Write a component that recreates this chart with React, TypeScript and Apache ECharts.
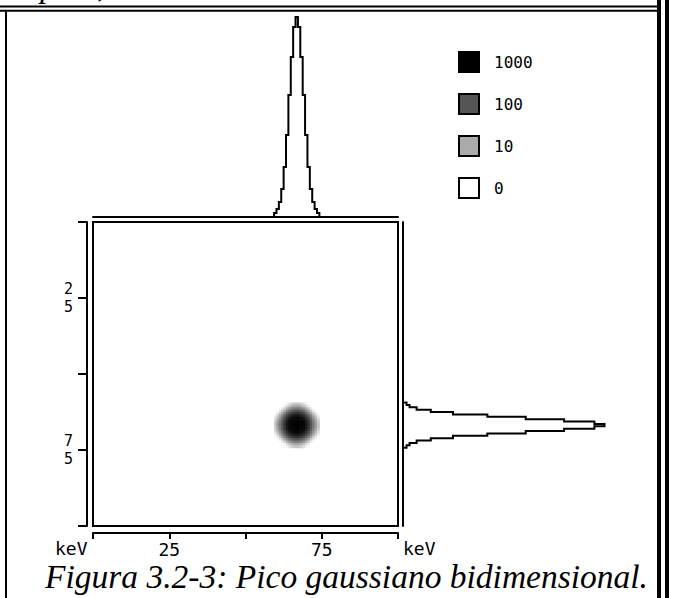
import React, { useEffect, useRef } from 'react';
import * as echarts from 'echarts';

// Spectrometer layout: 128 channels spanning 0–100 keV on each axis
const CHANNELS = 128;
const FULL_SCALE_KEV = 100;
const channelWidth = FULL_SCALE_KEV / CHANNELS;

// Projected counts around the peak, starting at this channel
const firstChannel = 76;
const xProjection = [4, 8, 15, 28, 50, 82, 122, 160, 190, 200, 190, 160, 122, 82, 50, 28, 15, 8, 4];
const yProjection = [4, 7, 14, 28, 50, 84, 122, 160, 190, 200, 190, 160, 122, 84, 50, 28, 14, 7, 4];

// Counts in the brightest cell of the 2-D spectrum
const spotPeakCounts = 1000;

// Colour key
const legendLevels = ['1000', '100', '10', '0'];
const legendColors = ['#000000', '#555555', '#aaaaaa', '#ffffff'];

// Axis ticks (keV)
const tickStep = 25;
const labeledTicks = [25, 75];
const axisUnit = 'keV';

const captionText = 'Figura 3.2-3: Pico gaussiano bidimensional.';
const headText = 'típico,';

// Grey ramp for log10(counts) from 0 to 3
const spotGrays = [
  '#ffffff', '#ffffff', '#ffffff', '#f4f4f4', '#d4d4d4', '#aaaaaa',
  '#808080', '#575757', '#303030', '#0a0a0a', '#000000',
];

const monoFont = '"DejaVu Sans Mono", monospace';
const serifFont = '"Liberation Serif", "Times New Roman", serif';

// Staircase outline of a projection: [keV, counts] pairs along bin edges
function stepOutline(counts: number[], first: number): number[][] {
  const pts: number[][] = [];
  counts.forEach((n, i) => {
    const lo = (first + i) * channelWidth;
    const hi = lo + channelWidth;
    if (i === 0) pts.push([lo, 0]);
    pts.push([lo, n], [hi, n]);
  });
  pts.push([(first + counts.length) * channelWidth, 0]);
  return pts;
}

// 2-D cells: product of the two normalised projections
function buildSpot(): number[][] {
  const mx = Math.max(...xProjection);
  const my = Math.max(...yProjection);
  const cells: number[][] = [];
  xProjection.forEach((nx, i) => {
    yProjection.forEach((ny, j) => {
      const counts = spotPeakCounts * (nx / mx) * (ny / my);
      if (counts >= 1) {
        cells.push([
          (firstChannel + i + 0.5) * channelWidth,
          (firstChannel + j + 0.5) * channelWidth,
          Math.log10(counts),
        ]);
      }
    });
  });
  return cells;
}

export default function App() {
  const ref = useRef<HTMLDivElement>(null);

  useEffect(() => {
    if (!ref.current) return;
    const chart = echarts.init(ref.current, undefined, { renderer: 'svg' });

    const topOutline = stepOutline(xProjection, firstChannel);
    const sideOutline = stepOutline(yProjection, firstChannel).map(([kev, n]) => [n, kev]);

    const tickLabel = (v: number) => (labeledTicks.includes(v) ? String(v) : '');
    const stackedLabel = (v: number) => (labeledTicks.includes(v) ? String(v).split('').join('\n') : '');

    const blackLine = { lineStyle: { color: '#000', width: 2 } };

    const option: any = {
      animation: false,
      backgroundColor: '#fff',
      grid: [
        { left: 93, top: 222, width: 305, height: 304, show: true, borderColor: '#000', borderWidth: 2, backgroundColor: 'transparent' },
        { left: 93, top: 17, width: 305, height: 200 },
        { left: 402.5, top: 222, width: 202, height: 304 },
      ],
      xAxis: [
        {
          gridIndex: 0, type: 'value', min: 0, max: FULL_SCALE_KEV, interval: tickStep,
          position: 'bottom', offset: 7,
          axisLine: { show: true, onZero: false, ...blackLine },
          axisTick: { show: true, length: 6, ...blackLine },
          axisLabel: { formatter: tickLabel, margin: 9, color: '#000', fontFamily: monoFont, fontSize: 18, lineHeight: 14 },
          splitLine: { show: false },
        },
        {
          gridIndex: 1, type: 'value', min: 0, max: FULL_SCALE_KEV, position: 'bottom',
          axisLine: { show: true, onZero: false, ...blackLine },
          axisTick: { show: false }, axisLabel: { show: false }, splitLine: { show: false },
        },
        { gridIndex: 2, type: 'value', min: 0, max: 200, show: false },
      ],
      yAxis: [
        {
          gridIndex: 0, type: 'value', min: 0, max: FULL_SCALE_KEV, interval: tickStep, inverse: true,
          position: 'left', offset: 6,
          axisLine: { show: true, onZero: false, ...blackLine },
          axisTick: { show: true, length: 9, ...blackLine },
          axisLabel: {
            formatter: stackedLabel, margin: 14, color: '#000', fontFamily: monoFont,
            fontSize: 15, lineHeight: 18, padding: [4, 0, 0, 0],
          },
          splitLine: { show: false },
        },
        { gridIndex: 1, type: 'value', min: 0, max: 200, show: false },
        {
          gridIndex: 2, type: 'value', min: 0, max: FULL_SCALE_KEV, inverse: true, position: 'left',
          axisLine: { show: true, onZero: false, ...blackLine },
          axisTick: { show: false }, axisLabel: { show: false }, splitLine: { show: false },
        },
      ],
      visualMap: {
        type: 'continuous', show: false, seriesIndex: 0, dimension: 2,
        min: 0, max: 3, inRange: { color: spotGrays },
      },
      legend: {
        data: legendLevels,
        orient: 'vertical', left: 453, top: 46,
        itemWidth: 20, itemHeight: 20, itemGap: 20,
        icon: 'rect', selectedMode: false,
        itemStyle: { borderColor: '#000', borderWidth: 2, opacity: 1 },
        textStyle: { color: '#000', fontFamily: monoFont, fontSize: 16, lineHeight: 20, padding: [0, 0, 0, 10] },
      },
      series: [
        {
          type: 'custom', name: 'spot', xAxisIndex: 0, yAxisIndex: 0,
          encode: { x: 0, y: 1 },
          data: buildSpot(),
          renderItem: (params: any, api: any) => {
            const x = api.value(0);
            const y = api.value(1);
            const a = api.coord([x - channelWidth / 2, y - channelWidth / 2]);
            const b = api.coord([x + channelWidth / 2, y + channelWidth / 2]);
            return {
              type: 'rect',
              shape: {
                x: Math.min(a[0], b[0]), y: Math.min(a[1], b[1]),
                width: Math.abs(b[0] - a[0]) + 0.6, height: Math.abs(b[1] - a[1]) + 0.6,
              },
              style: { fill: api.visual('color') },
            };
          },
        },
        {
          type: 'line', name: 'xProjection', xAxisIndex: 1, yAxisIndex: 1,
          data: topOutline, showSymbol: false, symbol: 'none', clip: false,
          lineStyle: { color: '#000', width: 2, join: 'miter' },
        },
        {
          type: 'line', name: 'yProjection', xAxisIndex: 2, yAxisIndex: 2,
          data: sideOutline, showSymbol: false, symbol: 'none', clip: false,
          lineStyle: { color: '#000', width: 2, join: 'miter' },
        },
        ...legendLevels.map((name, i) => ({
          type: 'scatter', name, xAxisIndex: 0, yAxisIndex: 0, data: [],
          itemStyle: { color: legendColors[i], borderColor: '#000', borderWidth: 2, opacity: 1 },
        })),
      ],
      graphic: [
        // page frame
        { type: 'line', shape: { x1: 0, y1: 6.5, x2: 657, y2: 6.5 }, style: { stroke: '#000', lineWidth: 2 } },
        { type: 'line', shape: { x1: 0, y1: 10.8, x2: 657, y2: 10.8 }, style: { stroke: '#000', lineWidth: 2 } },
        { type: 'line', shape: { x1: 6, y1: 11.5, x2: 6, y2: 598 }, style: { stroke: '#000', lineWidth: 2 } },
        { type: 'rect', shape: { x: 657, y: 0, width: 4, height: 598 }, style: { fill: '#000' } },
        { type: 'rect', shape: { x: 665, y: 0, width: 4, height: 598 }, style: { fill: '#000' } },
        // running text above the figure
        {
          type: 'text', x: 22, y: -14.5,
          style: { text: headText, font: `italic 33px ${serifFont}`, fill: '#000', verticalAlign: 'middle' },
        },
        // axis units
        {
          type: 'text', x: 55, y: 548,
          style: { text: axisUnit, font: `18px ${monoFont}`, lineHeight: 14, fill: '#000', verticalAlign: 'middle' },
        },
        {
          type: 'text', x: 403, y: 548,
          style: { text: axisUnit, font: `18px ${monoFont}`, lineHeight: 14, fill: '#000', verticalAlign: 'middle' },
        },
        // caption
        {
          type: 'text', x: 45, y: 576,
          style: { text: captionText, font: `italic 33.5px ${serifFont}`, lineHeight: 28, fill: '#000', verticalAlign: 'middle' },
        },
      ],
    };

    chart.setOption(option);
    return () => chart.dispose();
  }, []);

  return (
    <div
      ref={ref}
      style={{ position: 'fixed', left: 0, top: 0, width: 674, height: 598, background: '#fff' }}
    />
  );
}
